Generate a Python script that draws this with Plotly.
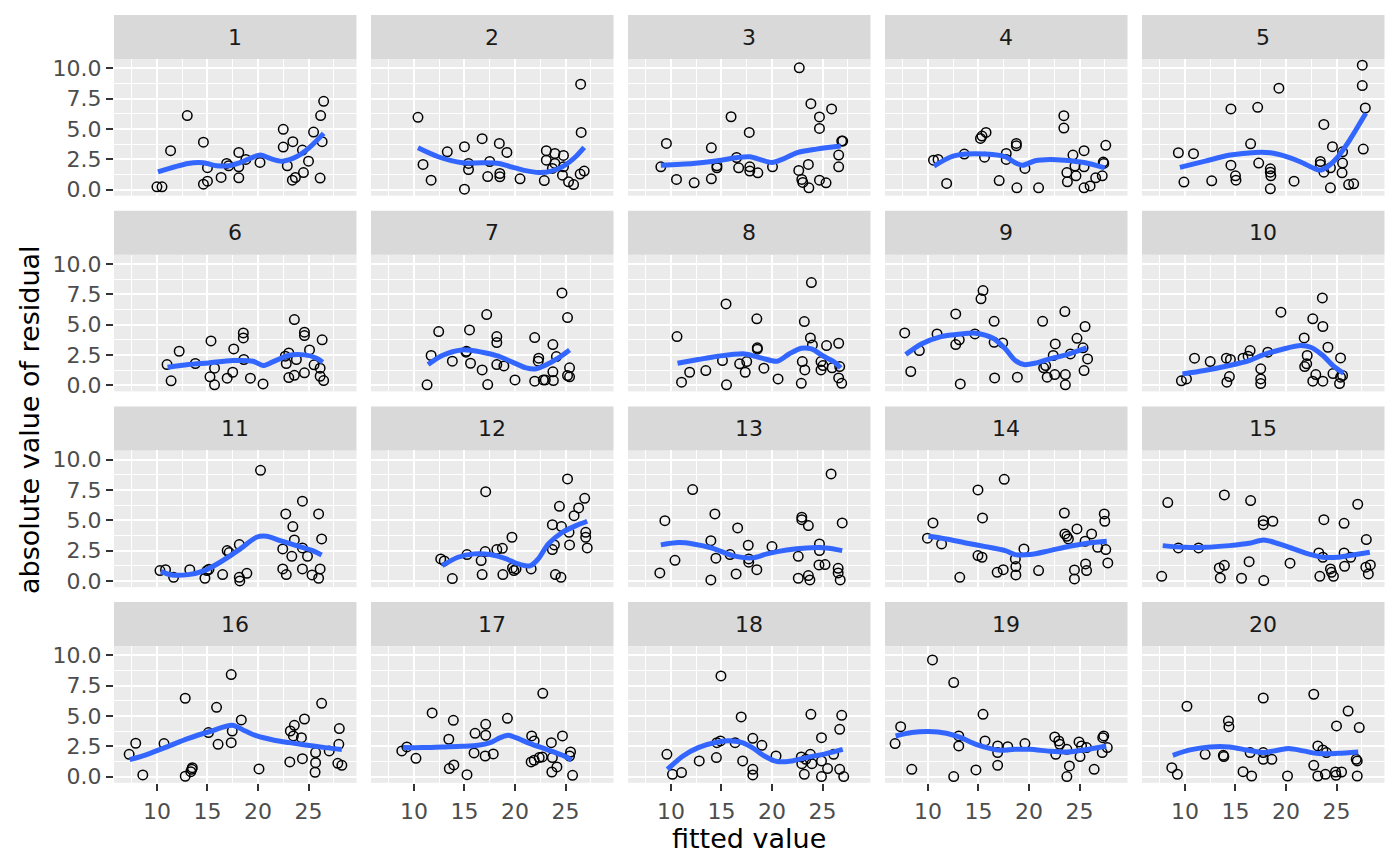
import plotly.graph_objs as go

# fitted value / absolute residual for each of the 20 panels, plus the smoother
fit_01 = [10.0, 10.5, 11.35, 13.0, 14.6, 14.6, 15.0, 15.0, 16.35, 16.9, 17.1, 18.1, 18.1, 18.1, 18.8, 20.2, 22.5, 22.5, 22.9, 23.45, 23.4, 23.7, 24.4, 24.5, 25.0, 25.5, 26.2, 26.5, 26.35, 26.15]
res_01 = [0.22, 0.22, 3.2, 6.1, 3.9, 0.44, 0.69, 1.8, 1.0, 2.15, 1.96, 3.06, 0.96, 1.87, 2.48, 2.23, 4.96, 3.5, 1.96, 3.94, 0.77, 0.99, 3.25, 1.4, 2.34, 4.74, 6.1, 7.27, 3.94, 0.94]
smx_01 = [10.1, 13.1, 14.6, 15.9, 17.1, 18.25, 20.2, 21.2, 22.4, 23.8, 25.0, 26.5]
smy_01 = [1.46, 2.15, 2.2, 1.96, 1.96, 2.23, 2.84, 2.56, 2.34, 2.7, 3.39, 4.63]

fit_02 = [10.4, 10.9, 11.7, 13.3, 15.0, 15.0, 15.4, 15.4, 16.75, 17.3, 17.5, 18.45, 18.5, 18.5, 19.2, 20.5, 22.9, 23.1, 23.1, 23.95, 23.7, 23.95, 24.8, 24.8, 24.7, 25.3, 25.8, 26.5, 26.55, 26.45, 26.85]
res_02 = [5.95, 2.07, 0.77, 3.11, 3.53, 0.03, 2.15, 1.65, 4.19, 1.07, 2.31, 3.8, 1.32, 1.05, 3.06, 0.88, 0.74, 3.2, 2.42, 2.97, 1.74, 2.15, 2.81, 1.87, 1.18, 0.63, 0.41, 8.68, 4.71, 1.27, 1.52]
smx_02 = [10.4, 12.4, 14.8, 16.8, 18.4, 19.6, 20.8, 22.4, 23.6, 24.8, 26.0, 26.85]
smy_02 = [3.44, 2.7, 2.2, 2.2, 2.15, 1.87, 1.6, 1.4, 1.52, 1.93, 2.7, 3.47]

fit_03 = [9.0, 9.55, 10.55, 12.3, 14.0, 14.0, 14.55, 14.55, 15.95, 16.5, 16.7, 17.75, 17.8, 17.8, 18.6, 20.05, 22.7, 22.65, 22.95, 23.05, 23.6, 23.65, 23.85, 24.7, 24.7, 24.7, 25.35, 25.9, 26.6, 26.6, 26.9, 27.0]
res_03 = [1.87, 3.8, 0.83, 0.55, 3.44, 0.88, 1.79, 1.96, 6.0, 2.64, 1.79, 4.71, 1.87, 1.52, 1.38, 1.87, 10.03, 1.57, 0.83, 0.58, 2.07, 0.14, 7.08, 5.98, 5.04, 0.77, 0.55, 6.64, 2.84, 1.87, 3.99, 3.99]
smx_03 = [9.0, 12.2, 14.6, 16.6, 17.8, 19.0, 20.0, 21.0, 22.45, 24.4, 26.8]
smy_03 = [2.0, 2.15, 2.37, 2.64, 2.7, 2.42, 2.23, 2.48, 3.03, 3.33, 3.58]

fit_04 = [10.55, 11.0, 11.85, 13.6, 15.2, 15.35, 15.75, 15.6, 17.05, 17.75, 17.75, 18.75, 18.75, 18.8, 19.6, 20.95, 23.45, 23.45, 23.75, 23.8, 24.35, 24.55, 24.65, 25.45, 25.45, 25.45, 26.05, 26.6, 27.25, 27.4, 27.35, 27.6]
res_04 = [2.42, 2.48, 0.5, 2.92, 4.21, 4.41, 4.71, 2.67, 0.74, 2.97, 2.48, 3.8, 3.6, 0.14, 1.74, 0.14, 6.09, 5.07, 1.4, 0.63, 2.84, 1.93, 1.13, 3.2, 1.87, 0.14, 0.3, 0.96, 1.13, 2.15, 2.26, 3.64]
smx_04 = [10.6, 12.3, 13.75, 15.7, 17.65, 18.6, 19.35, 20.6, 22.05, 23.5, 25.45, 27.5]
smy_04 = [1.93, 2.7, 2.92, 2.92, 2.7, 2.23, 2.0, 2.37, 2.48, 2.42, 2.23, 1.79]

fit_05 = [9.35, 10.85, 9.9, 12.65, 14.55, 14.55, 15.0, 15.05, 16.5, 17.2, 17.3, 18.45, 18.45, 18.5, 18.45, 19.3, 20.8, 23.75, 23.4, 23.4, 23.75, 24.4, 24.6, 24.4, 25.6, 25.6, 25.55, 26.2, 26.7, 27.55, 27.55, 27.85, 27.65]
res_05 = [3.03, 2.95, 0.61, 0.72, 6.64, 2.01, 1.13, 0.77, 3.77, 6.78, 2.18, 1.71, 1.43, 1.13, 0.06, 8.35, 0.69, 5.37, 2.31, 2.07, 1.43, 0.14, 3.53, 1.79, 3.11, 2.18, 1.38, 0.41, 0.47, 10.25, 8.57, 6.72, 3.33]
smx_05 = [9.5, 12.0, 14.5, 16.95, 18.45, 19.9, 21.4, 22.65, 23.35, 24.1, 25.0, 26.3, 27.9]
smy_05 = [1.82, 2.34, 2.84, 3.06, 3.03, 2.75, 2.29, 1.79, 1.6, 1.87, 2.56, 4.08, 6.28]

fit_06 = [11.0, 11.4, 12.2, 13.8, 15.35, 15.25, 15.7, 15.7, 16.95, 17.5, 17.6, 18.55, 18.55, 18.6, 19.25, 20.5, 22.7, 22.8, 23.05, 23.05, 23.6, 23.6, 23.8, 24.6, 24.6, 24.6, 25.1, 25.55, 26.15, 26.15, 26.35, 26.5]
res_06 = [1.7, 0.36, 2.8, 1.79, 3.65, 0.69, 1.4, 0.03, 0.58, 1.07, 2.99, 4.31, 3.9, 2.12, 0.58, 0.11, 2.39, 1.79, 2.66, 0.63, 5.41, 0.82, 2.12, 4.37, 4.09, 1.02, 2.91, 1.68, 1.4, 0.74, 3.74, 0.38]
smx_06 = [11.05, 13.1, 15.1, 17.5, 19.5, 20.5, 21.4, 23.0, 24.6, 25.8, 26.4]
smy_06 = [1.48, 1.7, 1.84, 2.03, 1.98, 1.62, 1.9, 2.45, 2.5, 2.23, 1.9]

fit_07 = [11.3, 11.7, 12.45, 13.8, 15.15, 15.2, 15.5, 15.6, 16.75, 17.2, 17.3, 18.2, 18.2, 18.2, 18.9, 20.0, 21.95, 22.35, 22.3, 21.95, 22.8, 23.0, 23.75, 23.75, 23.8, 24.1, 24.65, 25.2, 25.2, 25.4, 25.4]
res_07 = [0.03, 2.45, 4.42, 1.98, 2.72, 2.8, 4.56, 1.81, 1.26, 5.82, 0.05, 4.01, 3.52, 1.7, 1.59, 0.44, 3.93, 2.23, 1.98, 0.33, 0.44, 0.44, 3.35, 1.1, 0.38, 2.36, 7.61, 5.58, 0.8, 1.43, 0.69]
smx_07 = [11.4, 12.8, 14.75, 16.75, 18.35, 19.9, 21.1, 22.1, 23.1, 24.3, 25.4]
smy_07 = [1.7, 2.45, 2.91, 2.72, 2.39, 1.84, 1.43, 1.35, 1.68, 2.25, 2.91]

fit_08 = [10.6, 11.05, 11.85, 13.45, 15.1, 15.45, 15.5, 16.8, 17.35, 17.5, 18.5, 18.55, 18.55, 19.2, 20.6, 22.9, 23.0, 23.2, 23.25, 23.8, 23.9, 24.0, 24.85, 24.85, 25.05, 25.4, 25.95, 26.6, 26.7, 26.6, 26.9]
res_08 = [4.01, 0.25, 1.07, 1.21, 2.03, 6.7, 0.03, 1.76, 1.07, 1.95, 5.47, 3.08, 2.97, 1.4, 0.52, 0.16, 1.95, 5.25, 1.26, 3.9, 8.46, 3.32, 1.95, 1.26, 1.62, 3.27, 1.43, 3.46, 1.54, 0.6, 0.16]
smx_08 = [10.65, 12.7, 14.65, 17.3, 19.0, 20.5, 21.7, 22.9, 23.9, 25.1, 26.2, 26.8]
smy_08 = [1.81, 2.12, 2.39, 2.58, 2.23, 1.98, 2.58, 3.05, 2.99, 2.39, 1.9, 1.43]

fit_09 = [7.7, 8.3, 9.15, 10.9, 12.75, 12.75, 13.1, 13.2, 14.65, 15.25, 15.45, 16.55, 16.55, 16.6, 17.4, 18.85, 21.35, 21.45, 21.65, 21.8, 22.4, 22.55, 22.6, 23.55, 23.6, 23.6, 24.1, 24.75, 25.35, 25.55, 25.45, 25.8]
res_09 = [4.31, 1.13, 2.86, 4.23, 5.88, 3.35, 3.74, 0.11, 4.23, 7.12, 7.8, 5.27, 3.54, 0.6, 3.49, 0.66, 5.27, 1.43, 1.62, 0.66, 2.45, 0.88, 3.4, 6.07, 0.88, 0.03, 2.58, 3.87, 3.08, 4.84, 1.21, 2.17]
smx_09 = [7.8, 9.35, 11.3, 13.25, 14.7, 16.45, 17.65, 18.65, 19.5, 20.6, 22.05, 23.75, 25.7]
smy_09 = [2.53, 3.4, 4.01, 4.23, 4.29, 3.87, 3.0, 2.03, 1.7, 1.81, 2.17, 2.53, 3.08]

fit_10 = [9.65, 10.15, 10.95, 12.5, 14.1, 14.15, 14.4, 14.5, 15.75, 16.25, 16.45, 17.5, 17.5, 17.5, 18.2, 19.5, 21.8, 21.85, 22.05, 22.1, 22.65, 22.65, 22.95, 23.6, 23.65, 23.65, 24.15, 24.65, 25.3, 25.4, 25.6, 25.4]
res_10 = [0.36, 0.52, 2.23, 1.95, 2.23, 0.25, 0.71, 2.12, 2.23, 2.39, 2.86, 1.35, 0.52, 0.14, 2.72, 6.02, 3.9, 1.54, 1.76, 2.45, 5.47, 0.33, 0.88, 7.2, 4.84, 0.33, 3.13, 0.96, 0.14, 2.25, 0.8, 0.66]
smx_10 = [9.75, 11.95, 14.4, 16.35, 17.8, 19.75, 21.45, 22.45, 23.65, 24.65, 25.7]
smy_10 = [0.93, 1.21, 1.62, 2.03, 2.53, 2.99, 3.27, 3.13, 2.45, 1.62, 0.99]

fit_11 = [10.3, 10.85, 11.65, 13.25, 14.75, 14.95, 15.15, 16.5, 16.95, 17.15, 18.15, 18.15, 18.2, 18.9, 20.25, 22.45, 22.45, 22.75, 22.8, 23.35, 23.45, 23.6, 24.4, 24.4, 24.4, 24.9, 25.35, 26.0, 26.15, 26.3, 26.0]
res_11 = [0.85, 0.93, 0.3, 0.93, 0.22, 0.85, 0.96, 0.52, 2.5, 2.34, 3.0, 0.3, 0.0, 0.63, 9.12, 2.64, 0.99, 5.52, 0.52, 2.03, 4.48, 3.38, 6.57, 2.72, 0.99, 2.03, 0.49, 5.52, 0.99, 3.46, 0.22]
smx_11 = [10.4, 11.5, 13.1, 14.7, 16.25, 18.25, 19.85, 20.85, 22.2, 23.8, 25.4, 26.3]
smy_11 = [0.77, 0.49, 0.52, 0.85, 1.54, 2.64, 3.6, 3.68, 3.32, 2.91, 2.5, 2.14]

fit_12 = [12.65, 13.0, 13.8, 15.25, 16.65, 16.75, 17.05, 17.1, 18.2, 18.75, 18.8, 19.7, 19.75, 19.9, 20.1, 21.6, 23.7, 23.7, 23.9, 24.0, 24.4, 24.55, 24.6, 25.2, 25.35, 25.4, 25.85, 26.3, 26.9, 27.0, 27.0, 27.15]
res_12 = [1.81, 1.65, 0.19, 2.17, 1.68, 0.52, 2.42, 7.36, 2.58, 2.69, 0.52, 3.6, 1.07, 0.85, 0.99, 0.99, 2.58, 4.64, 2.97, 0.52, 6.15, 0.3, 4.48, 8.41, 4.01, 2.97, 5.38, 6.02, 6.81, 4.01, 3.6, 2.72]
smx_12 = [12.8, 14.35, 15.95, 17.55, 19.15, 20.3, 21.5, 22.3, 23.3, 24.7, 26.05, 27.15]
smy_12 = [1.26, 1.95, 2.23, 2.17, 1.81, 1.4, 1.24, 1.81, 3.05, 4.01, 4.56, 4.92]

fit_13 = [8.9, 9.4, 10.4, 12.15, 13.95, 13.95, 14.35, 14.45, 15.85, 16.45, 16.6, 17.65, 17.7, 17.7, 18.5, 20.0, 22.6, 22.6, 22.95, 22.95, 23.6, 23.6, 23.75, 24.7, 24.7, 24.65, 25.25, 25.85, 26.55, 26.55, 26.75, 26.95]
res_13 = [0.66, 4.97, 1.7, 7.53, 3.32, 0.08, 5.52, 1.87, 2.17, 0.58, 4.37, 2.94, 1.81, 1.54, 0.93, 2.83, 2.03, 0.22, 5.25, 5.05, 4.56, 0.44, 0.08, 3.05, 2.5, 1.32, 1.35, 8.82, 1.04, 0.66, 0.08, 4.78]
smx_13 = [9.0, 10.75, 12.2, 14.15, 16.1, 18.05, 19.5, 21.45, 23.4, 25.35, 26.95]
smy_13 = [2.97, 3.16, 3.05, 2.69, 2.09, 1.9, 2.23, 2.55, 2.72, 2.72, 2.5]

fit_14 = [9.95, 10.5, 11.35, 13.15, 14.95, 14.95, 15.35, 15.4, 16.85, 17.45, 17.55, 18.65, 18.7, 18.7, 19.5, 20.95, 23.5, 23.55, 23.75, 23.9, 24.5, 24.5, 24.75, 25.55, 25.6, 25.7, 26.2, 26.8, 27.45, 27.5, 27.6, 27.8]
res_14 = [3.52, 4.78, 3.05, 0.3, 7.5, 2.09, 1.95, 5.19, 0.71, 0.93, 8.38, 1.81, 1.18, 0.49, 2.64, 0.85, 5.6, 3.87, 3.68, 3.46, 0.91, 0.16, 4.29, 3.27, 1.4, 0.85, 3.87, 2.77, 5.52, 4.92, 2.58, 1.48]
smx_14 = [10.05, 11.8, 13.75, 15.7, 17.65, 18.65, 20.1, 22.05, 24.0, 25.95, 27.7]
smy_14 = [3.68, 3.46, 3.13, 2.83, 2.5, 2.17, 2.17, 2.5, 2.86, 3.13, 3.27]

fit_15 = [7.7, 8.3, 9.35, 11.35, 13.4, 13.5, 13.9, 13.9, 15.6, 16.35, 16.5, 17.75, 17.75, 17.8, 18.7, 20.4, 23.25, 23.35, 23.65, 23.75, 24.4, 24.5, 24.7, 25.75, 25.75, 25.8, 26.4, 27.1, 27.95, 27.9, 28.15, 28.35]
res_15 = [0.38, 6.46, 2.72, 2.72, 1.07, 0.25, 1.29, 7.09, 0.22, 1.59, 6.62, 4.97, 4.64, 0.03, 4.92, 1.46, 2.31, 0.38, 1.95, 5.05, 0.99, 0.71, 0.38, 4.75, 2.31, 1.21, 1.95, 6.32, 3.41, 1.13, 0.58, 1.32]
smx_15 = [7.8, 10.0, 11.95, 14.4, 16.35, 17.8, 19.3, 20.75, 22.2, 23.65, 25.1, 26.6, 28.3]
smy_15 = [2.91, 2.77, 2.77, 2.91, 3.1, 3.38, 3.05, 2.64, 2.23, 1.95, 1.95, 2.14, 2.36]

fit_16 = [7.25, 7.9, 8.6, 10.7, 12.8, 12.8, 13.35, 13.45, 13.5, 15.1, 15.9, 16.05, 17.35, 17.35, 17.45, 18.35, 20.1, 23.15, 23.2, 23.6, 23.5, 24.3, 24.4, 24.6, 25.7, 25.7, 25.65, 26.3, 27.05, 28.0, 28.05, 27.9, 28.3]
res_16 = [1.84, 2.75, 0.14, 2.72, 6.46, 0.03, 0.41, 0.6, 0.74, 3.63, 5.71, 2.66, 8.41, 2.8, 3.76, 4.67, 0.63, 1.21, 3.76, 4.23, 3.35, 3.21, 1.48, 4.75, 1.98, 1.15, 0.36, 6.04, 2.12, 2.66, 3.96, 1.1, 0.93]
smx_16 = [7.3, 9.05, 11.05, 13.05, 15.4, 17.45, 18.75, 19.9, 21.5, 23.1, 24.7, 26.65, 28.3]
smy_16 = [1.4, 1.84, 2.47, 3.13, 3.76, 4.23, 3.76, 3.35, 3.02, 2.8, 2.61, 2.39, 2.23]

fit_17 = [8.8, 9.3, 10.2, 11.8, 13.45, 13.5, 13.95, 13.9, 15.25, 15.95, 16.05, 17.05, 17.1, 17.1, 17.85, 19.25, 21.6, 21.9, 21.65, 21.9, 22.4, 22.7, 22.75, 23.6, 23.65, 23.7, 24.15, 24.7, 25.5, 25.4, 25.7]
res_17 = [2.12, 2.45, 1.51, 5.25, 3.08, 0.66, 0.96, 4.64, 0.16, 1.95, 3.57, 1.7, 4.31, 3.41, 1.87, 4.81, 1.21, 1.35, 3.35, 2.94, 1.57, 1.62, 6.87, 2.8, 0.38, 1.57, 0.8, 3.35, 2.03, 1.7, 0.11]
smx_17 = [8.9, 10.8, 12.8, 14.75, 16.35, 17.55, 18.55, 19.35, 20.1, 21.5, 23.1, 24.7, 25.6]
smy_17 = [2.39, 2.39, 2.45, 2.5, 2.58, 2.8, 3.21, 3.41, 3.21, 2.72, 2.25, 1.76, 1.37]

fit_18 = [9.6, 10.15, 11.05, 12.8, 14.5, 14.55, 14.9, 14.95, 16.35, 16.95, 17.1, 18.1, 18.1, 18.1, 19.0, 20.4, 22.9, 22.95, 23.2, 23.35, 23.85, 23.8, 23.95, 24.9, 24.9, 24.9, 25.5, 26.1, 26.7, 26.7, 26.9, 27.1]
res_18 = [1.84, 0.19, 0.33, 1.29, 1.57, 2.8, 2.94, 8.3, 2.8, 4.92, 1.29, 3.16, 0.6, 0.14, 2.58, 1.7, 1.62, 1.07, 0.19, 1.43, 5.14, 1.84, 1.07, 3.21, 1.29, 0.0, 0.66, 1.84, 3.9, 0.6, 5.05, 0.0]
smx_18 = [9.65, 11.2, 12.7, 14.65, 16.1, 17.05, 18.05, 19.25, 20.5, 21.95, 23.4, 25.35, 27.0]
smy_18 = [0.6, 1.7, 2.39, 2.86, 2.94, 2.8, 2.39, 1.7, 1.24, 1.29, 1.57, 1.9, 2.25]

fit_19 = [6.75, 7.3, 8.4, 10.45, 12.55, 12.55, 13.05, 13.05, 14.75, 15.45, 15.65, 16.9, 16.9, 16.9, 17.9, 19.6, 22.55, 22.65, 22.95, 23.05, 23.75, 23.75, 24.0, 24.95, 25.05, 25.2, 25.7, 26.45, 27.25, 27.4, 27.3, 27.75]
res_19 = [2.72, 4.12, 0.6, 9.62, 7.75, 0.0, 3.35, 2.53, 0.55, 5.14, 2.94, 2.53, 1.98, 0.93, 2.47, 2.72, 3.27, 1.84, 2.94, 2.66, 2.25, 0.0, 0.88, 2.86, 1.65, 2.53, 2.39, 0.6, 1.98, 3.35, 3.21, 2.39]
smx_19 = [6.8, 8.4, 10.1, 11.8, 13.25, 14.75, 16.2, 17.15, 18.6, 20.1, 22.05, 23.75, 25.45, 27.65]
smy_19 = [3.35, 3.63, 3.71, 3.57, 3.21, 2.66, 2.31, 2.17, 2.25, 2.25, 2.09, 2.03, 2.2, 2.53]

fit_20 = [8.7, 9.25, 10.2, 12.0, 13.8, 13.85, 14.3, 14.35, 15.75, 16.45, 16.6, 17.75, 17.75, 17.75, 18.6, 20.15, 22.75, 22.75, 23.15, 23.15, 23.65, 24.0, 23.9, 24.9, 24.95, 25.0, 25.5, 26.15, 26.95, 27.05, 27.25, 27.05]
res_20 = [0.74, 0.19, 5.8, 1.84, 1.76, 1.65, 4.59, 4.12, 0.41, 1.98, 0.05, 6.48, 1.98, 1.43, 1.43, 0.05, 6.79, 0.93, 2.53, 0.05, 2.2, 1.98, 0.19, 0.38, 0.11, 4.18, 0.38, 5.41, 1.43, 1.29, 4.04, 0.05]
smx_20 = [8.8, 10.5, 12.45, 14.4, 16.1, 17.8, 18.8, 20.25, 21.7, 23.2, 25.1, 27.15]
smy_20 = [1.76, 2.2, 2.45, 2.45, 2.2, 1.98, 2.12, 2.31, 2.12, 1.9, 1.92, 2.03]

fits = [fit_01, fit_02, fit_03, fit_04, fit_05, fit_06, fit_07, fit_08, fit_09, fit_10,
        fit_11, fit_12, fit_13, fit_14, fit_15, fit_16, fit_17, fit_18, fit_19, fit_20]
ress = [res_01, res_02, res_03, res_04, res_05, res_06, res_07, res_08, res_09, res_10,
        res_11, res_12, res_13, res_14, res_15, res_16, res_17, res_18, res_19, res_20]
smxs = [smx_01, smx_02, smx_03, smx_04, smx_05, smx_06, smx_07, smx_08, smx_09, smx_10,
        smx_11, smx_12, smx_13, smx_14, smx_15, smx_16, smx_17, smx_18, smx_19, smx_20]
smys = [smy_01, smy_02, smy_03, smy_04, smy_05, smy_06, smy_07, smy_08, smy_09, smy_10,
        smy_11, smy_12, smy_13, smy_14, smy_15, smy_16, smy_17, smy_18, smy_19, smy_20]

panel_labels = [str(i) for i in range(1, 21)]
x_ticks = [10, 15, 20, 25]
x_minor = [7.5, 12.5, 17.5, 22.5, 27.5]
y_ticks = [0, 2.5, 5, 7.5, 10]
y_ticktext = ['0.0', '2.5', '5.0', '7.5', '10.0']
y_minor = [1.25, 3.75, 6.25, 8.75]

W, H = 1400, 866
FONT = 'DejaVu Sans'
# the page body has an 8px margin, so everything is placed 8px up/left
OFF = 8
left0, col_step, panel_w = 114 - OFF, 257, 242.5
top0, row_step, panel_h, strip_h = 59 - OFF, 195.7, 136.7, 44

fig = go.Figure()
shapes = []
annotations = []

for i in range(20):
    r, c = divmod(i, 5)
    k = i + 1
    xa = 'x' if k == 1 else 'x%d' % k
    ya = 'y' if k == 1 else 'y%d' % k

    x0 = left0 + c * col_step
    x1 = x0 + panel_w
    yt = top0 + r * row_step
    yb = yt + panel_h

    fig.add_trace(go.Scatter(
        x=fits[i], y=ress[i], mode='markers', xaxis=xa, yaxis=ya,
        marker=dict(symbol='circle-open', size=9.5, color='black',
                    line=dict(width=1.5, color='black')),
        showlegend=False, hoverinfo='skip'))
    fig.add_trace(go.Scatter(
        x=smxs[i], y=smys[i], mode='lines', xaxis=xa, yaxis=ya,
        line=dict(color='#3366FF', width=5, shape='spline', smoothing=0.8),
        showlegend=False, hoverinfo='skip'))

    bottom = (r == 3)
    first = (c == 0)
    xkey = 'xaxis' if k == 1 else 'xaxis%d' % k
    ykey = 'yaxis' if k == 1 else 'yaxis%d' % k
    fig.layout[xkey] = dict(
        domain=[x0 / W, x1 / W], anchor=ya, range=[5.75, 29.75],
        tickmode='array', tickvals=x_ticks,
        showticklabels=bottom, ticks='outside' if bottom else '',
        ticklen=7, tickwidth=2, tickcolor='#333333', ticklabelstandoff=2,
        tickfont=dict(family=FONT, size=22, color='#4D4D4D'),
        showgrid=True, gridcolor='white', gridwidth=2.2,
        minor=dict(tickvals=x_minor, showgrid=True, gridcolor='white', gridwidth=1.1),
        zeroline=False, showline=False, automargin=False, fixedrange=True)
    fig.layout[ykey] = dict(
        domain=[1 - yb / H, 1 - yt / H], anchor=xa, range=[-0.51, 10.76],
        tickmode='array', tickvals=y_ticks, ticktext=y_ticktext,
        showticklabels=first, ticks='outside' if first else '',
        ticklen=7, tickwidth=2, tickcolor='#333333',
        tickfont=dict(family=FONT, size=22, color='#4D4D4D'),
        showgrid=True, gridcolor='white', gridwidth=2.2,
        minor=dict(tickvals=y_minor, showgrid=True, gridcolor='white', gridwidth=1.1),
        zeroline=False, showline=False, automargin=False, fixedrange=True)

    # facet strip
    shapes.append(dict(type='rect', xref='paper', yref='paper',
                       x0=x0 / W, x1=x1 / W, y0=1 - yt / H, y1=1 - (yt - strip_h) / H,
                       fillcolor='#D9D9D9', line=dict(width=0), layer='below'))
    annotations.append(dict(text=panel_labels[i], xref='paper', yref='paper',
                            x=(x0 + x1) / 2 / W, y=1 - (yt - strip_h / 2) / H,
                            showarrow=False, xanchor='center', yanchor='middle',
                            font=dict(family=FONT, size=22, color='#1A1A1A')))

annotations.append(dict(text='fitted value', xref='paper', yref='paper',
                        x=(left0 + 4 * col_step + panel_w + left0) / 2 / W, y=1 - (838 - OFF) / H,
                        showarrow=False, xanchor='center', yanchor='middle',
                        font=dict(family=FONT, size=27, color='black')))
annotations.append(dict(text='absolute value of residual', xref='paper', yref='paper',
                        x=(30 - OFF) / W, y=1 - (420 - OFF) / H, textangle=-90,
                        showarrow=False, xanchor='center', yanchor='middle',
                        font=dict(family=FONT, size=27, color='black')))

fig.update_layout(
    width=W, height=H,
    margin=dict(l=0, r=0, t=0, b=0),
    paper_bgcolor='white', plot_bgcolor='#EBEBEB',
    showlegend=False, shapes=shapes, annotations=annotations,
    font=dict(family=FONT))

fig.write_html("out.html")
